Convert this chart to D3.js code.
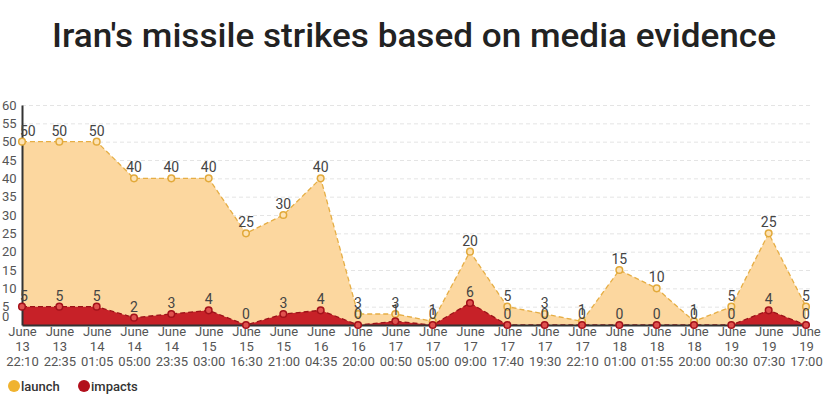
<!DOCTYPE html>
<html>
<head>
<meta charset="utf-8">
<script src="https://cdn.jsdelivr.net/npm/d3@7"></script>
<style>
  body { margin: 0; background: #fff; }
  text { font-family: Roboto, "Noto Sans", sans-serif; }
</style>
</head>
<body>
<script>
// data
var labels = ["June 13 22:10", "June 13 22:35", "June 14 01:05", "June 14 05:00", "June 14 23:35",
              "June 15 03:00", "June 15 16:30", "June 15 21:00", "June 16 04:35", "June 16 20:00",
              "June 17 00:50", "June 17 05:00", "June 17 09:00", "June 17 17:40", "June 17 19:30",
              "June 17 22:10", "June 18 01:00", "June 18 01:55", "June 18 20:00", "June 19 00:30",
              "June 19 07:30", "June 19 17:00"];
var launch  = [50, 50, 50, 40, 40, 40, 25, 30, 40, 3, 3, 1, 20, 5, 3, 1, 15, 10, 1, 5, 25, 5];
var impacts = [5, 5, 5, 2, 3, 4, 0, 3, 4, 0, 1, 0, 6, 0, 0, 0, 0, 0, 0, 0, 4, 0];
var yTicks  = [0, 5, 10, 15, 20, 25, 30, 35, 40, 45, 50, 55, 60];

var width = 835, height = 394;
var plotLeft = 22, plotRight = 806, plotTop = 105, plotBottom = 325;

var svg = d3.select("body").append("svg")
    .attr("width", width)
    .attr("height", height);

svg.append("text")
    .attr("x", 414)
    .attr("y", 47)
    .attr("text-anchor", "middle")
    .attr("font-size", 34)
    .attr("font-weight", 500)
    .attr("fill", "#222")
    .attr("textLength", 724)
    .attr("lengthAdjust", "spacingAndGlyphs")
    .text("Iran's missile strikes based on media evidence");

var x = d3.scalePoint().domain(d3.range(labels.length)).range([plotLeft, plotRight]);
var y = d3.scaleLinear().domain([0, 60]).range([plotBottom, plotTop]);

// grid
svg.append("g")
    .attr("transform", "translate(" + plotLeft + ",0)")
    .call(d3.axisLeft(y).tickValues(yTicks.slice(1)).tickSize(-(plotRight - plotLeft + 4)).tickFormat(""))
    .call(function(g) { g.select(".domain").remove(); })
    .selectAll("line")
    .style("stroke", "#e4e4e4")
    .style("stroke-dasharray", "4,3");

// areas
var areaGen = d3.area()
    .x(function(d, i) { return x(i); })
    .y0(y(0))
    .y1(function(d) { return y(d); });
var lineGen = d3.line()
    .x(function(d, i) { return x(i); })
    .y(function(d) { return y(d); });

svg.append("path")
    .datum(launch)
    .attr("d", areaGen)
    .style("fill", "#fcd79f");
svg.append("path")
    .datum(launch)
    .attr("d", lineGen)
    .style("fill", "none")
    .style("stroke", "#e6ae45")
    .style("stroke-width", 1.3)
    .style("stroke-dasharray", "5,3");

svg.append("path")
    .datum(impacts)
    .attr("d", areaGen)
    .style("fill", "#c72128");
svg.append("path")
    .datum(impacts)
    .attr("d", lineGen)
    .style("fill", "none")
    .style("stroke", "#9c1218")
    .style("stroke-width", 1.3)
    .style("stroke-dasharray", "5,3");

// axes
var yAxis = svg.append("g")
    .attr("transform", "translate(" + plotLeft + ",0)")
    .call(d3.axisLeft(y).tickValues(yTicks).tickSize(0));
yAxis.select(".domain").style("stroke", "#333").style("stroke-width", 2);
yAxis.selectAll("text")
    .attr("x", -20)
    .attr("dy", function(d) { return d == 0 ? "-0.35em" : "0.32em"; })
    .style("text-anchor", "start")
    .style("font-size", "13px")
    .style("fill", "#555");

var xAxis = svg.append("g")
    .attr("transform", "translate(0," + plotBottom + ")")
    .call(d3.axisBottom(x).tickSize(0).tickFormat(""));
xAxis.select(".domain").style("stroke", "#333").style("stroke-width", 2);
xAxis.selectAll(".tick").append("text")
    .attr("fill", "#555")
    .style("font-size", "13px")
    .style("text-anchor", "middle")
    .selectAll("tspan")
    .data(function(i) { return labels[i].split(" "); })
    .join("tspan")
    .attr("x", 0)
    .attr("y", function(d, k) { return 2 + k * 15; })
    .attr("dy", "0.71em")
    .text(function(d) { return d; });

// markers and value labels
function points(data, stroke, fill) {
    svg.append("g").selectAll("circle")
        .data(data)
        .join("circle")
        .attr("cx", function(d, i) { return x(i); })
        .attr("cy", function(d) { return y(d); })
        .attr("r", 3.3)
        .style("fill", fill)
        .style("stroke", stroke)
        .style("stroke-width", 1.5);
    svg.append("g").selectAll("text")
        .data(data)
        .join("text")
        .attr("x", function(d, i) { return i == 0 ? x(i) - 2 : x(i); })
        .attr("y", function(d) { return y(d) - 6; })
        .attr("text-anchor", function(d, i) { return i == 0 ? "start" : "middle"; })
        .style("font-size", "14px")
        .style("fill", "#444")
        .text(function(d) { return d; });
}
points(launch, "#e2a93a", "#fde2b4");
points(impacts, "#a3111a", "#e0524f");

// legend
var legend = svg.append("g").attr("transform", "translate(0,386)");
legend.append("circle").attr("cx", 14).attr("cy", 0).attr("r", 6).style("fill", "#f0b32f");
legend.append("text").attr("x", 21).attr("y", 5).text("launch")
    .style("font-size", "13px").style("font-weight", 500).style("fill", "#333");
legend.append("circle").attr("cx", 84).attr("cy", 0).attr("r", 6).style("fill", "#b20f1c");
legend.append("text").attr("x", 91).attr("y", 5).text("impacts")
    .style("font-size", "13px").style("font-weight", 500).style("fill", "#333");
</script>
</body>
</html>
